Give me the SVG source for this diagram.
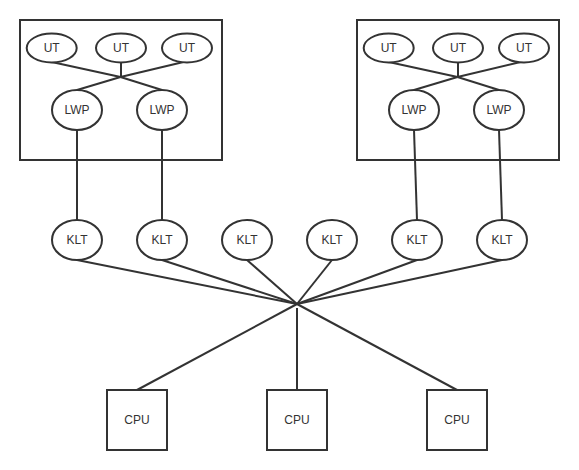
<svg xmlns="http://www.w3.org/2000/svg" width="579" height="470" viewBox="0 0 579 470">
<style>
.s{fill:#fff;stroke:#333;stroke-width:2}
.b{fill:none;stroke:#333;stroke-width:2}
.c line{stroke:#333;stroke-width:2}
text{font-family:"Liberation Sans",Arial,sans-serif;font-size:12px;fill:#333;text-anchor:middle;dominant-baseline:central}
</style>
<rect width="579" height="470" fill="#fff"/>
<g id="box1"><rect class="b" x="20" y="20" width="202" height="140"/></g>
<g id="box2"><rect class="b" x="357" y="20" width="202" height="140"/></g>
<g class="c" id="connectors">
<line x1="51.7" y1="62" x2="120.5" y2="77"/>
<line x1="121" y1="62.5" x2="121" y2="77"/>
<line x1="183.5" y1="62" x2="120.5" y2="77"/>
<line x1="77" y1="90" x2="120.5" y2="77"/>
<line x1="162" y1="90" x2="120.5" y2="77"/>
<line x1="388.7" y1="62" x2="457.5" y2="77"/>
<line x1="458" y1="62.5" x2="458" y2="77"/>
<line x1="520.5" y1="62" x2="457.5" y2="77"/>
<line x1="414" y1="90" x2="457.5" y2="77"/>
<line x1="499" y1="90" x2="457.5" y2="77"/>
<line x1="77" y1="130" x2="77" y2="220"/>
<line x1="162" y1="130" x2="162" y2="220"/>
<line x1="414" y1="130" x2="417" y2="220"/>
<line x1="499" y1="130" x2="502" y2="220"/>
<line x1="77" y1="260" x2="297" y2="304"/>
<line x1="162" y1="260" x2="297" y2="304"/>
<line x1="247" y1="260" x2="297" y2="304"/>
<line x1="332" y1="260" x2="297" y2="304"/>
<line x1="417" y1="260" x2="297" y2="304"/>
<line x1="502" y1="260" x2="297" y2="304"/>
<line x1="297" y1="304" x2="137" y2="390"/>
<line x1="297" y1="308" x2="297" y2="390"/>
<line x1="297" y1="304" x2="457" y2="390"/>
</g>
<g id="ut1"><ellipse class="s" cx="51.7" cy="48" rx="25" ry="14.5"/><text x="51.7" y="48">UT</text></g>
<g id="ut2"><ellipse class="s" cx="121" cy="48" rx="25" ry="14.5"/><text x="121" y="48">UT</text></g>
<g id="ut3"><ellipse class="s" cx="187" cy="48" rx="25" ry="14.5"/><text x="187" y="48">UT</text></g>
<g id="lwp1"><ellipse class="s" cx="77" cy="110" rx="25" ry="20"/><text x="77" y="110">LWP</text></g>
<g id="lwp2"><ellipse class="s" cx="162" cy="110" rx="25" ry="20"/><text x="162" y="110">LWP</text></g>
<g id="ut4"><ellipse class="s" cx="388.7" cy="48" rx="25" ry="14.5"/><text x="388.7" y="48">UT</text></g>
<g id="ut5"><ellipse class="s" cx="458" cy="48" rx="25" ry="14.5"/><text x="458" y="48">UT</text></g>
<g id="ut6"><ellipse class="s" cx="524" cy="48" rx="25" ry="14.5"/><text x="524" y="48">UT</text></g>
<g id="lwp3"><ellipse class="s" cx="414" cy="110" rx="25" ry="20"/><text x="414" y="110">LWP</text></g>
<g id="lwp4"><ellipse class="s" cx="499" cy="110" rx="25" ry="20"/><text x="499" y="110">LWP</text></g>
<g id="klt1"><ellipse class="s" cx="77" cy="240" rx="25" ry="20"/><text x="77" y="240">KLT</text></g>
<g id="klt2"><ellipse class="s" cx="162" cy="240" rx="25" ry="20"/><text x="162" y="240">KLT</text></g>
<g id="klt3"><ellipse class="s" cx="247" cy="240" rx="25" ry="20"/><text x="247" y="240">KLT</text></g>
<g id="klt4"><ellipse class="s" cx="332" cy="240" rx="25" ry="20"/><text x="332" y="240">KLT</text></g>
<g id="klt5"><ellipse class="s" cx="417" cy="240" rx="25" ry="20"/><text x="417" y="240">KLT</text></g>
<g id="klt6"><ellipse class="s" cx="502" cy="240" rx="25" ry="20"/><text x="502" y="240">KLT</text></g>
<g id="cpu1"><rect class="s" x="107" y="390" width="60" height="60"/><text x="137" y="420">CPU</text></g>
<g id="cpu2"><rect class="s" x="267" y="390" width="60" height="60"/><text x="297" y="420">CPU</text></g>
<g id="cpu3"><rect class="s" x="427" y="390" width="60" height="60"/><text x="457" y="420">CPU</text></g>
</svg>
